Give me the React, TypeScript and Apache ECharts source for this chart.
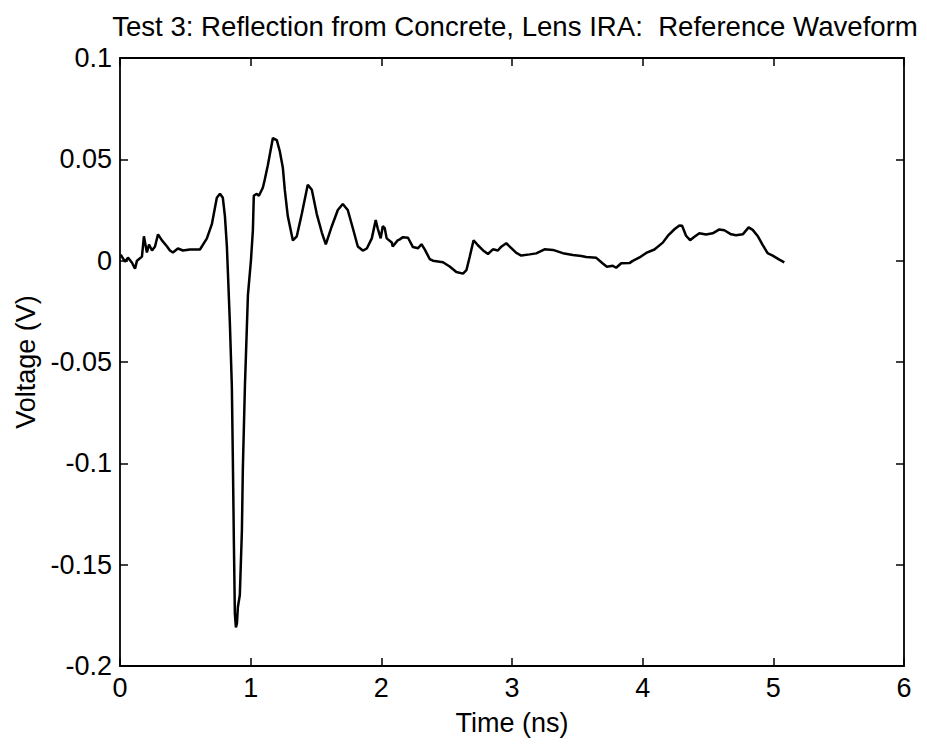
import React, { useEffect, useRef } from "react";
import * as echarts from "echarts";

const chartTitle = "Test 3: Reflection from Concrete, Lens IRA:  Reference Waveform";
const xAxisName = "Time (ns)";
const yAxisName = "Voltage (V)";

const timeNs = [
  0.005, 0.038, 0.061, 0.092, 0.115, 0.13, 0.168, 0.183, 0.206, 0.222, 0.245, 0.268, 0.291, 0.321,
  0.36, 0.382, 0.405, 0.443, 0.482, 0.535, 0.612, 0.665, 0.703, 0.741, 0.765, 0.787, 0.803, 0.818,
  0.826, 0.841, 0.856, 0.864, 0.872, 0.879, 0.887, 0.895, 0.902, 0.917, 0.933, 0.94, 0.956, 0.979,
  1.002, 1.017, 1.024, 1.047, 1.063, 1.093, 1.108, 1.131, 1.17, 1.2, 1.223, 1.246, 1.261, 1.284,
  1.323, 1.353, 1.391, 1.437, 1.468, 1.506, 1.544, 1.575, 1.621, 1.667, 1.705, 1.743, 1.782, 1.82,
  1.858, 1.889, 1.927, 1.957, 1.972, 1.995, 2.011, 2.026, 2.041, 2.08, 2.087, 2.125,
  2.141, 2.166, 2.204, 2.242, 2.281, 2.307, 2.332, 2.37, 2.395, 2.472, 2.523, 2.574, 2.625, 2.651,
  2.676, 2.706, 2.739, 2.777, 2.816, 2.854, 2.892, 2.918, 2.956, 2.995, 3.033, 3.071, 3.135, 3.186,
  3.249, 3.313, 3.389, 3.466, 3.53, 3.568, 3.645, 3.695, 3.726, 3.771, 3.797, 3.836, 3.899, 3.924,
  3.976, 4.027, 4.09, 4.154, 4.192, 4.243, 4.281, 4.302, 4.332, 4.363, 4.396, 4.434, 4.485, 4.536,
  4.587, 4.625, 4.677, 4.715, 4.766, 4.811, 4.842, 4.88, 4.918, 4.956, 4.995, 5.046, 5.084,
];

const voltage = [
  0.003, -0.0005, 0.0015, -0.001, -0.004, 0.0, 0.002, 0.012, 0.004, 0.008, 0.005, 0.007, 0.013, 0.01,
  0.007, 0.005, 0.004, 0.006, 0.005, 0.0055, 0.0055, 0.011, 0.018, 0.031, 0.033, 0.031, 0.022, 0.007,
  -0.006, -0.031, -0.062, -0.1, -0.141, -0.174, -0.181, -0.179, -0.171, -0.165, -0.133, -0.103, -0.062, -0.017,
  0.0, 0.015, 0.032, 0.033, 0.032, 0.036, 0.04, 0.047, 0.0605, 0.0595, 0.054, 0.046, 0.035, 0.022,
  0.01, 0.012, 0.023, 0.0375, 0.035, 0.023, 0.014, 0.008, 0.017, 0.025, 0.028, 0.025, 0.016, 0.007,
  0.005, 0.006, 0.011, 0.02, 0.016, 0.011, 0.017, 0.016, 0.011, 0.009, 0.007, 0.01,
  0.0105, 0.0116, 0.0113, 0.0067, 0.0061, 0.0081, 0.0056, 0.0008, 0.0, -0.0008, -0.0029, -0.0056, -0.0064, -0.0047,
  0.0018, 0.0101, 0.0076, 0.0052, 0.0033, 0.0056, 0.005, 0.0069, 0.0086, 0.0062, 0.0038, 0.0025, 0.0031, 0.0036,
  0.0056, 0.0053, 0.0037, 0.0028, 0.0023, 0.0018, 0.0014, -0.0014, -0.003, -0.0025, -0.0035, -0.0013, -0.0012, -0.0001,
  0.0016, 0.0038, 0.0055, 0.0089, 0.0122, 0.0155, 0.0174, 0.0172, 0.0123, 0.0101, 0.0118, 0.0135, 0.0129, 0.0135,
  0.0154, 0.015, 0.013, 0.0125, 0.013, 0.0164, 0.0152, 0.0122, 0.0078, 0.0037, 0.0025, 0.0005, -0.0008,
];

const xTicks = [0, 1, 2, 3, 4, 5, 6];
const yTicks = [-0.2, -0.15, -0.1, -0.05, 0, 0.05, 0.1];

export default function App() {
  const ref = useRef<HTMLDivElement>(null);

  useEffect(() => {
    if (!ref.current) return;
    const chart = echarts.init(ref.current, null, { renderer: "svg" });
    const font = "'Liberation Sans', Arial, Helvetica, sans-serif";
    const data = timeNs.map((t, i) => [t, voltage[i]]);
    const xMin = xTicks[0];
    const xMax = xTicks[xTicks.length - 1];
    const xInterval = xTicks[1] - xTicks[0];
    const yMin = yTicks[0];
    const yMax = yTicks[yTicks.length - 1];
    const yInterval = 0.05;
    const line = { show: true, onZero: false, lineStyle: { color: "#000", width: 1.8 } };
    const tick = { show: true, inside: true, length: 8, lineStyle: { color: "#000", width: 1.5 } };
    const label = { color: "#000", fontSize: 27, fontFamily: font };

    chart.setOption({
      animation: false,
      backgroundColor: "#fff",
      title: {
        text: chartTitle,
        left: 510,
        textAlign: "center",
        top: 7,
        textStyle: { fontSize: 27.6, fontWeight: "normal", color: "#000", fontFamily: font },
      },
      grid: { left: 120, right: 23, top: 58, bottom: 79, containLabel: false },
      xAxis: [
        {
          type: "value",
          min: xMin,
          max: xMax,
          interval: xInterval,
          position: "bottom",
          name: xAxisName,
          nameLocation: "middle",
          nameGap: 43,
          nameTextStyle: { color: "#000", fontSize: 27, fontFamily: font },
          axisLine: line,
          axisTick: tick,
          axisLabel: { ...label, margin: 8, formatter: (v: number) => String(v) },
          splitLine: { show: false },
        },
        {
          type: "value",
          min: xMin,
          max: xMax,
          interval: xInterval,
          position: "top",
          axisLine: line,
          axisTick: tick,
          axisLabel: { show: false },
          splitLine: { show: false },
        },
      ],
      yAxis: [
        {
          type: "value",
          min: yMin,
          max: yMax,
          interval: yInterval,
          position: "left",
          name: yAxisName,
          nameLocation: "middle",
          nameGap: 80,
          nameTextStyle: { color: "#000", fontSize: 27, fontFamily: font },
          axisLine: line,
          axisTick: tick,
          axisLabel: {
            ...label,
            margin: 8,
            showMinLabel: true,
            showMaxLabel: true,
            formatter: (v: number) => String(Number(v.toFixed(2))),
          },
          splitLine: { show: false },
        },
        {
          type: "value",
          min: yMin,
          max: yMax,
          interval: yInterval,
          position: "right",
          axisLine: line,
          axisTick: tick,
          axisLabel: { show: false },
          splitLine: { show: false },
        },
      ],
      series: [
        {
          type: "line",
          xAxisIndex: 0,
          yAxisIndex: 0,
          data,
          showSymbol: false,
          symbol: "none",
          smooth: false,
          lineStyle: { color: "#000", width: 2.5 },
        },
      ],
    });

    return () => chart.dispose();
  }, []);

  return (
    <div
      ref={ref}
      style={{ position: "absolute", left: 0, top: 0, width: 927, height: 745, background: "#fff" }}
    />
  );
}
